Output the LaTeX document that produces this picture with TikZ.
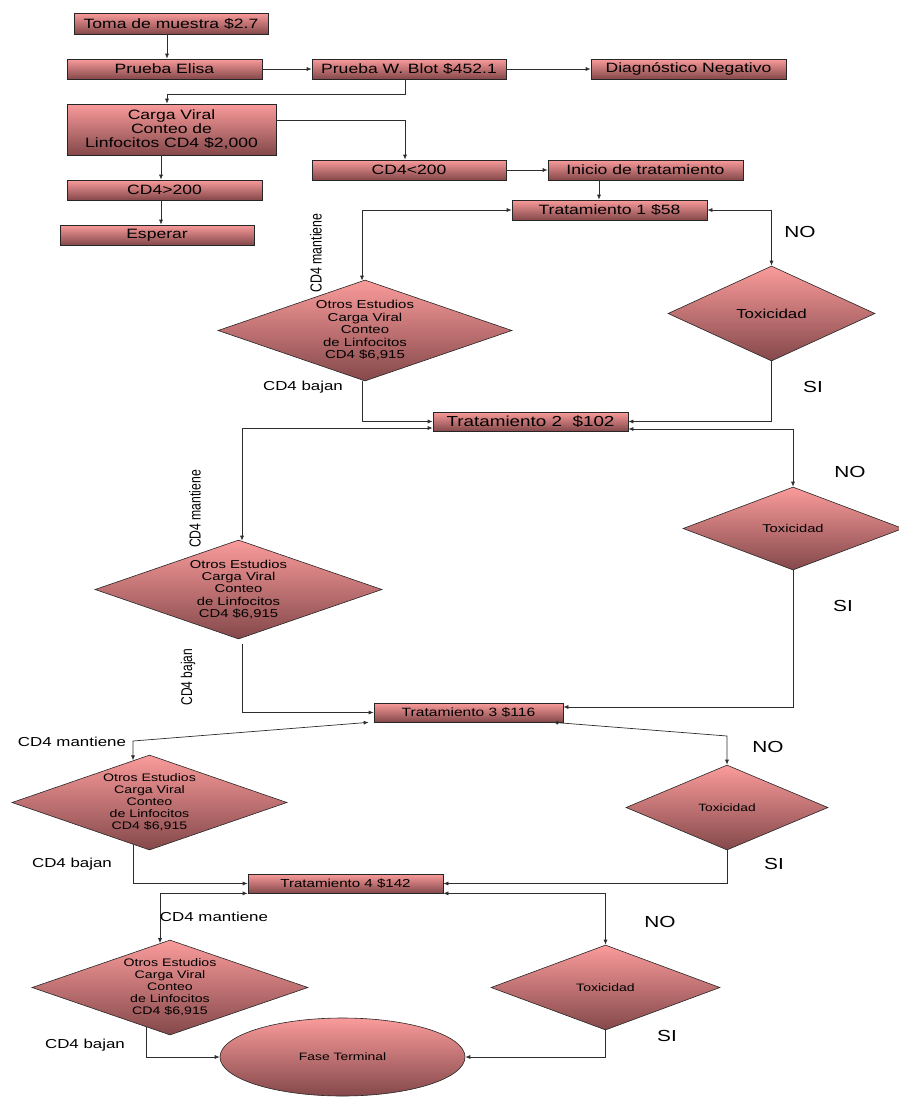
\documentclass[tikz,border=0pt]{standalone}
\usepackage{fontspec}
\setmainfont{Liberation Sans}[FakeStretch=1.3]
\newfontfamily\plainsf{Liberation Sans}
\usetikzlibrary{shapes.geometric,arrows.meta}
\definecolor{pinkT}{RGB}{250,155,155}
\definecolor{pinkB}{RGB}{132,72,74}
\definecolor{lineC}{RGB}{45,45,45}
\newcommand{\fs}[2]{\fontsize{#1}{#2}\selectfont}
\newcommand{\tallx}[1]{\scalebox{1}[1.3]{#1}}
\begin{document}
\begin{tikzpicture}[x=1pt,y=-1pt,
  box/.style={rectangle, draw=black!85, line width=0.7pt, top color=pinkT, bottom color=pinkB, inner sep=0pt, minimum height=20pt, minimum width=195pt, font=\fs{13.5}{14}},
  dia/.style={diamond, draw=black!85, line width=0.6pt, top color=pinkT, bottom color=pinkB, inner sep=0pt},
  con/.style={draw=lineC, line width=0.7pt},
  arr/.style={con, -{Latex[length=5pt,width=4pt]}},
  darr/.style={con, {Latex[length=5pt,width=4pt]}-{Latex[length=5pt,width=4pt]}},
  lbl/.style={font=\fs{13}{13}, inner sep=0pt},
  yn/.style={font=\fs{16}{16}, inner sep=0pt},
  rlbl/.style={font=\plainsf\fs{12.3}{12.3}, rotate=90, inner sep=0pt},
  otros/.style 2 args={font=\fs{#1}{#2}, align=center, inner sep=0pt}
]
\useasboundingbox (0,0) rectangle (899,1098);

% boxes
\node[box, minimum width=194pt, minimum height=21pt] (toma) at (171,23.5) {Toma de muestra \$2.7};
\node[box] (elisa) at (164.5,69) {Prueba Elisa};
\node[box, minimum width=194pt] (blot) at (409,69) {Prueba W. Blot \$452.1};
\node[box] (diag) at (688.5,69) {Diagnóstico Negativo};
\node[box, minimum width=209pt, minimum height=51pt, align=center] (carga) at (171.5,129.5) {Carga Viral\\Conteo de\\Linfocitos CD4 \$2,000};
\node[box, minimum width=194pt] (cdlt) at (409,170) {CD4<200};
\node[box] (cdgt) at (164.5,190) {CD4>200};
\node[box, minimum width=194pt] (esp) at (157,235) {Esperar};
\node[box] (ini) at (645.5,170) {Inicio de tratamiento};
\node[box] (t1) at (609.5,210) {Tratamiento 1 \$58};
\node[box, minimum height=19pt, font=\fs{14.5}{15}] (t2) at (530.5,421.5) {Tratamiento 2\ \ \$102};
\node[box, minimum width=189pt, minimum height=19pt, font=\fs{12}{12}] (t3) at (468.5,712.5) {Tratamiento 3 \$116};
\node[box, minimum height=19pt, font=\fs{11.6}{12}] (t4) at (345.5,883.5) {Tratamiento 4 \$142};

% Otros Estudios diamonds
\node[dia, minimum width=294pt, minimum height=101pt,
  label={[otros={11.5}{12.5}]center:{Otros Estudios\\Carga Viral\\Conteo\\de Linfocitos\\CD4 \$6,915}}] (od1) at (365,330.5) {};
\node[dia, minimum width=287pt, minimum height=99pt,
  label={[otros={11.4}{12.3}]center:{Otros Estudios\\Carga Viral\\Conteo\\de Linfocitos\\CD4 \$6,915}}] (od2) at (238.5,589.5) {};
\node[dia, minimum width=275pt, minimum height=95pt,
  label={[otros={10.9}{11.9}]center:{Otros Estudios\\Carga Viral\\Conteo\\de Linfocitos\\CD4 \$6,915}}] (od3) at (149.5,802.5) {};
\node[dia, minimum width=276pt, minimum height=95pt,
  label={[otros={10.9}{11.9}]center:{Otros Estudios\\Carga Viral\\Conteo\\de Linfocitos\\CD4 \$6,915}}] (od4) at (170,987.5) {};

% Toxicidad diamonds
\node[dia, minimum width=207pt, minimum height=95pt, font=\fs{13}{13}] (tx1) at (771.5,313.5) {Toxicidad};
\node[dia, minimum width=220pt, minimum height=83pt, font=\fs{11.3}{12}] (tx2) at (793,528.5) {Toxicidad};
\node[dia, minimum width=202pt, minimum height=85pt, font=\fs{10.6}{11}] (tx3) at (727,807.5) {Toxicidad};
\node[dia, minimum width=229pt, minimum height=85pt, font=\fs{10.8}{11}] (tx4) at (605.5,987.5) {Toxicidad};

% terminal
\node[ellipse, draw=black!85, line width=0.6pt, top color=pinkT, bottom color=pinkB, minimum width=245pt, minimum height=78pt, inner sep=0pt, font=\fs{10.7}{11}] (fase) at (342.5,1057) {Fase Terminal};

% connectors
\draw[arr] ([xshift=-4pt]toma.south) -- ([xshift=2.5pt]elisa.north);
\draw[arr] (elisa.east) -- (blot.west);
\draw[arr] (blot.east) -- (diag.west);
\draw[arr] ([xshift=-4pt]blot.south) -- ++(0,15) -| ([xshift=-4.5pt]carga.north);
\draw[arr] ([yshift=9.5pt]carga.east) -| ([xshift=-4pt]cdlt.north);
\draw[arr] ([xshift=-10.5pt]carga.south) -- ([xshift=-3.5pt]cdgt.north);
\draw[arr] ([xshift=-3.5pt]cdgt.south) -- ([xshift=4pt]esp.north);
\draw[arr] (cdlt.east) -- (ini.west);
\draw[arr] ([xshift=-46.5pt]ini.south) -- ([xshift=-10.5pt]t1.north);
\draw[darr] (t1.east) -| (tx1.north);
\draw[arr] (tx1.south) |- (t2.east);
\draw[darr] (t1.west) -| ([xshift=-3pt,yshift=-1pt]od1.north);
\draw[arr] ([xshift=-3pt]od1.south) |- (t2.west);
\draw[darr] ([yshift=-6.5pt]t2.west) -| ([xshift=3.5pt,yshift=-1pt]od2.north);
\draw[darr] ([yshift=-7.5pt]t2.east) -| (tx2.north);
\draw[arr] (tx2.south) |- ([yshift=5.5pt]t3.east);
\draw[arr] ([xshift=3.5pt,yshift=-5pt]od2.south) |- (t3.west);
\coordinate (k3l) at (133,741);
\draw[darr] ([xshift=-5pt]t3.south west) -- (k3l) -- ([xshift=-16.5pt,yshift=-5.7pt]od3.north);
\coordinate (k3r) at (727,736);
\draw[darr] ([xshift=-10pt]t3.south east) -- (k3r) -- (tx3.north);
\draw[arr] (tx3.south) |- (t4.east);
\draw[arr] ([xshift=-16.5pt,yshift=5.7pt]od3.south) |- (t4.west);
\draw[darr] (t4.south west) -| ([xshift=-10pt,yshift=-3.5pt]od4.north);
\draw[darr] (t4.south east) -| (tx4.north);
\draw[arr] (tx4.south) |- (fase.east);
\draw[arr] ([xshift=-24pt,yshift=8.3pt]od4.south) |- (fase.west);

% labels
\node[yn] (no1) at (800,232) {NO};
\node[yn] (si1) at (813,387) {SI};
\node[yn] (no2) at (850,472) {NO};
\node[yn] (si2) at (843,606) {SI};
\node[yn] (no3) at (768,747) {NO};
\node[yn] (si3) at (774,864) {SI};
\node[yn] (no4) at (660,922) {NO};
\node[yn] (si4) at (667,1036) {SI};
\node[rlbl] (m1) at (316,253) {\tallx{CD4 mantiene}};
\node[lbl] (b1) at (303,387) {CD4 bajan};
\node[rlbl, font=\plainsf\fs{12.2}{12.2}] (m2) at (195,509) {\tallx{CD4 mantiene}};
\node[rlbl, font=\plainsf\fs{12}{12}] (b2) at (188,677) {\tallx{CD4 bajan}};
\node[lbl] (m3) at (72,742) {CD4 mantiene};
\node[lbl] (b3) at (72,864) {CD4 bajan};
\node[lbl] (m4) at (214,917) {CD4 mantiene};
\node[lbl] (b4) at (85,1045) {CD4 bajan};
\end{tikzpicture}
\end{document}
